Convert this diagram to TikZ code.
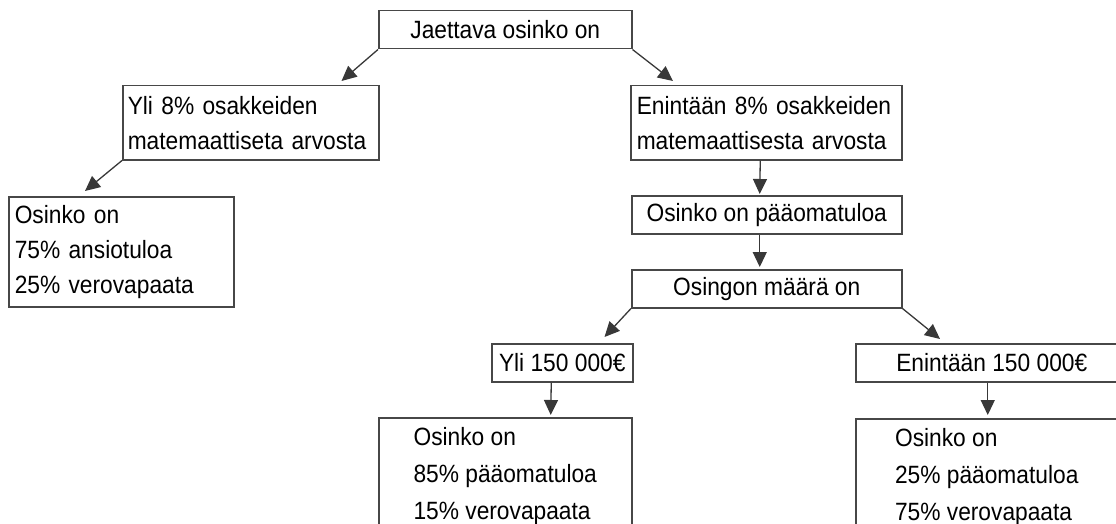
\documentclass[tikz,border=0pt]{standalone}
\usepackage{fontspec}
\setmainfont{Liberation Sans}[FakeStretch=0.91]
\usetikzlibrary{arrows.meta}
\tikzset{
  infobox/.style={draw=black!72,line width=1.5pt,anchor=north west,inner sep=0pt,
    font=\fontsize{25}{35}\selectfont},
  flowArrow/.style={-{Triangle[length=15pt,width=14pt]},line width=1.3pt,draw=black!78}
}

\begin{document}
\begin{tikzpicture}[x=1pt,y=-1pt]
  \useasboundingbox (0,0) rectangle (1116,524);
  \clip (0,0) rectangle (1116,524);
  \node[infobox,minimum width=253pt,minimum height=38pt] (jaettava) at (378,10) {Jaettava osinko on};
  \node[infobox,inner xsep=5pt,text width=246pt,minimum height=74pt,align=left] (yli8) at (122,85)
    {Yli 8\% osakkeiden\\matemaattiseta arvosta};
  \node[infobox,inner xsep=6pt,text width=259pt,minimum height=74pt,align=left] (enint8) at (630,85)
    {Enintään 8\% osakkeiden\\matemaattisesta arvosta};
  \node[infobox,inner xsep=6pt,text width=213pt,minimum height=110pt,align=left] (ansio) at (8,196)
    {Osinko on\\75\% ansiotuloa\\25\% verovapaata};
  \node[infobox,minimum width=270pt,minimum height=38pt] (paaoma) at (631,195) {Osinko on pääomatuloa};
  \node[infobox,minimum width=270pt,minimum height=38pt] (maara) at (631,269) {Osingon määrä on};
  \node[infobox,minimum width=141pt,minimum height=38pt] (yli150) at (491,343) {Yli 150 000€};
  \node[infobox,minimum width=272pt,minimum height=38pt] (enint150) at (855,343) {Enintään 150 000€};
  \node[infobox,minimum width=253pt,minimum height=116pt,align=left,font=\fontsize{25}{37}\selectfont] (pao85) at (378,417)
    {Osinko on\\85\% pääomatuloa\\15\% verovapaata};
  \node[infobox,minimum width=262pt,minimum height=116pt,align=left,font=\fontsize{25}{37}\selectfont] (pao25) at (855,418)
    {Osinko on\\25\% pääomatuloa\\75\% verovapaata};
  \draw[flowArrow] (jaettava.south west) -- ([xshift=-38pt,yshift=4pt]yli8.north east);
  \draw[flowArrow] (jaettava.south east) -- ([xshift=43pt,yshift=4pt]enint8.north west);
  \draw[flowArrow] (yli8.south west) -- ([xshift=77pt,yshift=5pt]ansio.north west);
  \draw[flowArrow] ([xshift=-6pt]enint8.south) -- ([xshift=-7pt,yshift=1pt]paaoma.north);
  \draw[flowArrow] ([xshift=-7pt]paaoma.south) -- ([xshift=-7pt,yshift=2pt]maara.north);
  \draw[flowArrow] (maara.south west) -- ([xshift=-29pt,yshift=6pt]yli150.north east);
  \draw[flowArrow] (maara.south east) -- ([xshift=85pt,yshift=4pt]enint150.north west);
  \draw[flowArrow] ([xshift=-11pt]yli150.south) -- ([xshift=45.5pt,yshift=2pt]pao85.north);
  \draw[flowArrow] ([xshift=-4pt]enint150.south) -- ([xshift=1pt,yshift=3pt]pao25.north);
\end{tikzpicture}
\end{document}
